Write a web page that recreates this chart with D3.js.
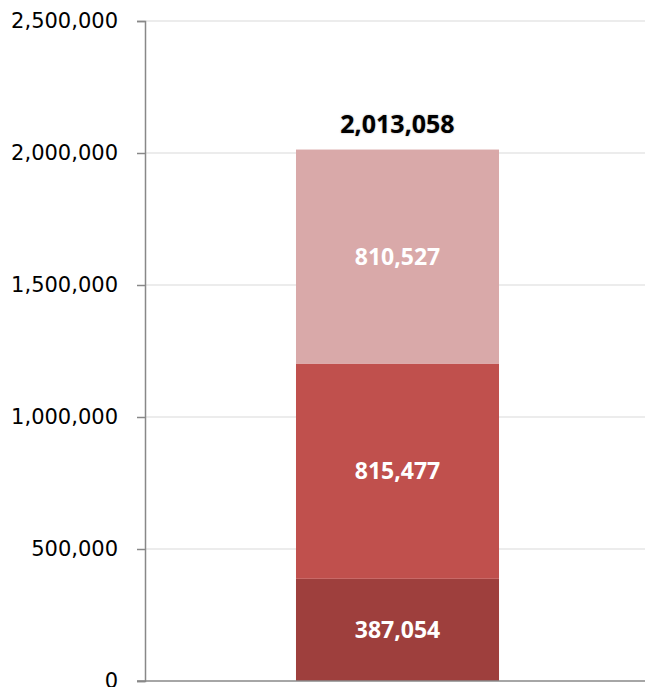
<!DOCTYPE html>
<html><head><meta charset="utf-8">
<script src="https://cdn.jsdelivr.net/npm/d3@7"></script>
<style>
html,body{margin:0;padding:0;background:#fff;}
svg{display:block;}
</style></head>
<body>
<script>
const categories = ["Total"];
const seriesNames = ["Part 1", "Part 2", "Part 3"];
const seriesValues = [[387054], [815477], [810527]];
const seriesColors = ["#9E3F3D", "#C0504D", "#D9A9A9"];
const yTicks = [0, 500000, 1000000, 1500000, 2000000, 2500000];

const W = 645, H = 687;
const svg = d3.select("body").append("svg").attr("width", W).attr("height", H);

const y = d3.scaleLinear().domain([0, 2500000]).range([681, 21]);
const x = d3.scaleBand().domain(categories).range([145, 650]).padding(0.4265);

// gridlines
svg.append("g").selectAll("line").data(yTicks.filter(d => d > 0)).join("line")
  .attr("x1", 145).attr("x2", W)
  .attr("y1", d => y(d)).attr("y2", d => y(d))
  .attr("stroke", "#d9d9d9").attr("stroke-width", 1);

// stacked data
const table = categories.map((c, i) => {
  const o = {cat: c};
  seriesNames.forEach((s, j) => o[s] = seriesValues[j][i]);
  return o;
});
const stack = d3.stack().keys(seriesNames)(table);

const g = svg.append("g");
stack.forEach((layer, j) => {
  g.selectAll(null).data(layer).join("rect")
    .attr("x", d => x(d.data.cat))
    .attr("width", x.bandwidth())
    .attr("y", d => y(d[1]))
    .attr("height", d => y(d[0]) - y(d[1]))
    .attr("fill", seriesColors[j]);
  g.selectAll(null).data(layer).join("text")
    .attr("x", d => x(d.data.cat) + x.bandwidth() / 2)
    .attr("y", d => (y(d[0]) + y(d[1])) / 2)
    .attr("dy", "0.35em")
    .attr("text-anchor", "middle")
    .attr("font-family", "'Open Sans', sans-serif")
    .attr("font-weight", "bold")
    .attr("font-size", 23)
    .attr("fill", "#fff")
    .text(d => d3.format(",")(d[1] - d[0]));
});

// totals
g.selectAll(null).data(table).join("text")
  .attr("x", d => x(d.cat) + x.bandwidth() / 2)
  .attr("y", d => y(d3.sum(seriesNames, s => d[s])) - 17)
  .attr("text-anchor", "middle")
  .attr("font-family", "'Open Sans', sans-serif")
  .attr("font-weight", "bold")
  .attr("font-size", 25)
  .attr("fill", "#000")
  .style("text-shadow", "0 0 2px rgba(0,0,0,0.35)")
  .text(d => d3.format(",")(d3.sum(seriesNames, s => d[s])));

// y axis
const yAxis = svg.append("g").attr("transform", "translate(145,0)")
  .call(d3.axisLeft(y).tickValues(yTicks).tickFormat(d3.format(",")).tickSize(8).tickPadding(19));
yAxis.select(".domain").attr("stroke", "#888").attr("stroke-width", 1.5);
yAxis.selectAll(".tick line").attr("stroke", "#888").attr("stroke-width", 1.5);
yAxis.selectAll(".tick text")
  .attr("font-family", "'DejaVu Sans', sans-serif")
  .attr("font-size", 21)
  .attr("fill", "#000");

// baseline
svg.append("line")
  .attr("x1", 137).attr("x2", W)
  .attr("y1", y(0)).attr("y2", y(0))
  .attr("stroke", "#888").attr("stroke-width", 1.5);
</script>
</body></html>
